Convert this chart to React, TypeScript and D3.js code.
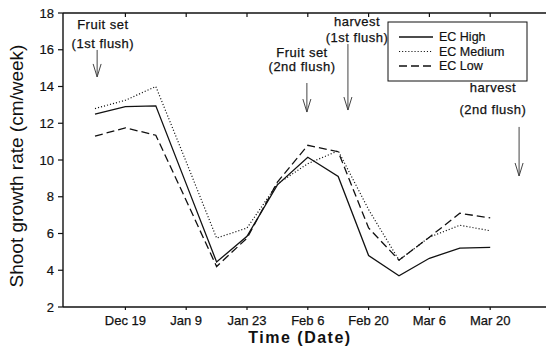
import React from "react";
import * as d3 from "d3";

const weeks = [0, 1, 2, 3, 4, 5, 6, 7, 8, 9, 10, 11, 12, 13];
const ecHigh = [12.5, 12.9, 12.95, 8.7, 4.45, 5.85, 8.65, 10.15, 9.1, 4.8, 3.7, 4.65, 5.2, 5.25];
const ecMedium = [12.8, 13.25, 14.0, 9.9, 5.75, 6.3, 8.7, 9.8, 10.5, 7.3, 4.55, 5.8, 6.45, 6.15];
const ecLow = [11.3, 11.75, 11.35, 7.8, 4.2, 5.75, 8.8, 10.8, 10.45, 6.3, 4.55, 5.8, 7.1, 6.85];
const tickWeeks = [1, 3, 5, 7, 9, 11, 13];
const tickLabels = ["Dec 19", "Jan 9", "Jan 23", "Feb 6", "Feb 20", "Mar 6", "Mar 20"];
const yTicks = [2, 4, 6, 8, 10, 12, 14, 16, 18];
const seriesNames = ["EC High", "EC Medium", "EC Low"];

// annotations in data units (week index, value)
const annotations = [
  { lines: ["Fruit set", "(1st flush)"], tx: 0.26, ty: [17.13, 16.1], ax: 0.07, a1: 15.99, a2: 14.52 },
  { lines: ["harvest", "(1st flush)"], tx: 8.62, ty: [17.29, 16.42], ax: 8.32, a1: 16.31, a2: 12.72 },
  { lines: ["Fruit set", "(2nd flush)"], tx: 6.81, ty: [15.62, 14.84], ax: 6.97, a1: 14.19, a2: 12.61 },
  { lines: ["harvest", "(2nd flush)"], tx: 13.09, ty: [13.7, 12.5], ax: 13.95, a1: 11.8, a2: 9.13 },
];

const W = 546;
const H = 356;
const FONT = "'Liberation Sans', Arial, Helvetica, sans-serif";

export default function App() {
  const x = d3.scaleLinear().domain([-1, 15]).range([64.6, 551]);
  const y = d3.scaleLinear().domain([2, 18]).range([307, 13]);
  const left = 63;
  const top = y(18);
  const bottom = y(2);

  const line = d3
    .line<number>()
    .x((_, i) => x(weeks[i]))
    .y((d) => y(d));

  const styles = [
    { dash: undefined as string | undefined, w: 1.3 },
    { dash: "1.1 2", w: 1.2 },
    { dash: "8 4", w: 1.3 },
  ];
  const series = [ecHigh, ecMedium, ecLow];

  return (
    <svg
      width={W}
      height={H}
      style={{ position: "absolute", left: 0, top: 0, background: "#fff" }}
      fontFamily={FONT}
    >
      <rect width={W} height={H} fill="#fff" />
      {/* frame */}
      <line x1={left} x2={W} y1={top} y2={top} stroke="#111" strokeWidth={1.4} />
      <line x1={left} x2={W} y1={bottom} y2={bottom} stroke="#111" strokeWidth={1.4} />
      <line x1={left} x2={left} y1={top} y2={bottom} stroke="#111" strokeWidth={1.4} />

      {/* y ticks */}
      {yTicks.map((t) => (
        <g key={t}>
          <line x1={left - 5} x2={left} y1={y(t)} y2={y(t)} stroke="#111" strokeWidth={1.2} />
          <text x={54} y={y(t) + 4.5} textAnchor="end" fontSize={13} fill="#111" stroke="#111" strokeWidth={0.2}>
            {t}
          </text>
        </g>
      ))}

      {/* x ticks */}
      {tickWeeks.map((w, i) => (
        <g key={w}>
          <line x1={x(w)} x2={x(w)} y1={bottom} y2={bottom + 3} stroke="#111" strokeWidth={1.2} />
          <line x1={x(w)} x2={x(w)} y1={top} y2={top + 4} stroke="#111" strokeWidth={1.2} />
          <text x={x(w)} y={325} textAnchor="middle" fontSize={13} fill="#111" stroke="#111" strokeWidth={0.25}>
            {tickLabels[i]}
          </text>
        </g>
      ))}

      {/* series */}
      {series.map((s, i) => (
        <path
          key={i}
          d={line(s) || ""}
          fill="none"
          stroke="#111"
          strokeWidth={styles[i].w}
          strokeDasharray={styles[i].dash}
        />
      ))}

      {/* annotations */}
      {annotations.map((a, i) => {
        const ax = x(a.ax);
        const y1 = y(a.a1);
        const y2 = y(a.a2);
        return (
          <g key={i}>
            {a.lines.map((l, j) => (
              <text
                key={j}
                x={x(a.tx)}
                y={y(a.ty[j])}
                textAnchor="middle"
                fontSize={13}
                letterSpacing={0.5}
                fill="#111"
                stroke="#111"
                strokeWidth={0.25}
              >
                {l}
              </text>
            ))}
            <path
              d={`M${ax},${y1}L${ax},${y2}M${ax - 4},${y2 - 13}L${ax},${y2}L${ax + 4},${y2 - 13}`}
              fill="none"
              stroke="#444"
              strokeWidth={1}
            />
          </g>
        );
      })}

      {/* legend */}
      <rect x={388} y={22} width={139} height={59} fill="#fff" stroke="#111" strokeWidth={1} />
      {seriesNames.map((n, i) => {
        const ly = 37 + i * 14.5;
        return (
          <g key={n}>
            <line
              x1={399}
              x2={433}
              y1={ly}
              y2={ly}
              stroke="#111"
              strokeWidth={styles[i].w}
              strokeDasharray={styles[i].dash}
            />
            <text x={439} y={ly + 4.3} fontSize={12.5} fill="#111" stroke="#111" strokeWidth={0.2}>
              {n}
            </text>
          </g>
        );
      })}

      {/* axis titles */}
      <text
        transform={`translate(23,166) rotate(-90)`}
        textAnchor="middle"
        fontSize={19}
        fill="#111"
      >
        Shoot growth rate (cm/week)
      </text>
      <text x={300} y={343} textAnchor="middle" fontSize={16} fontWeight="bold" letterSpacing={1.5} fill="#111">
        Time (Date)
      </text>
    </svg>
  );
}
